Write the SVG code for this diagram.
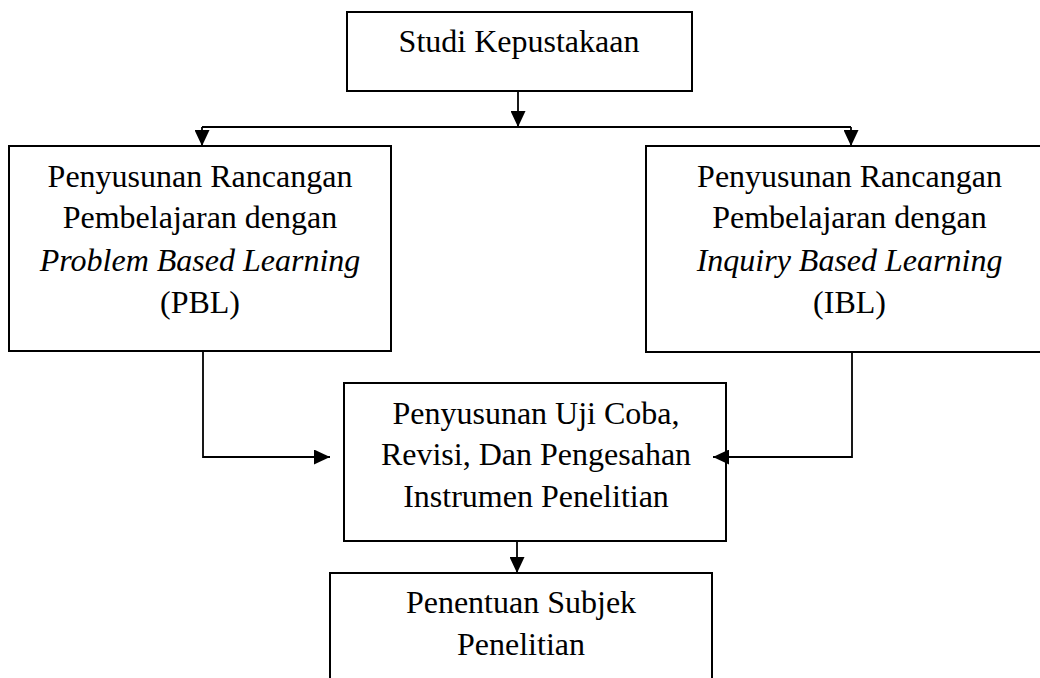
<svg xmlns="http://www.w3.org/2000/svg" width="1040" height="678" viewBox="0 0 1040 678">
<defs>
<style>
.box{fill:#fff;stroke:#000;stroke-width:2}
.t{font-family:"Liberation Serif","Times New Roman",serif;font-size:32px;fill:#000;text-anchor:middle}
.i{font-style:italic}
.c{fill:none;stroke:#000;stroke-width:1.8}
</style>
<marker id="ah" viewBox="0 0 16 15" refX="16" refY="7.5" markerWidth="16" markerHeight="15" markerUnits="userSpaceOnUse" orient="auto">
<path d="M0,0 L16,7.5 L0,15 Z" fill="#000"/>
</marker>
</defs>
<rect width="1040" height="678" fill="#fff"/>
<g id="node-studi">
<rect class="box" x="347" y="12" width="345" height="79"/>
<text class="t" x="519" y="52">Studi Kepustakaan</text>
</g>
<g id="node-pbl">
<rect class="box" x="9" y="146" width="382" height="205"/>
<text class="t" x="200" y="187">Penyusunan Rancangan</text>
<text class="t" x="200" y="228">Pembelajaran dengan</text>
<text class="t i" x="200" y="271">Problem Based Learning</text>
<text class="t" x="200" y="313">(PBL)</text>
</g>
<g id="node-ibl">
<rect class="box" x="646" y="146" width="407" height="206"/>
<text class="t" x="849.5" y="187">Penyusunan Rancangan</text>
<text class="t" x="849.5" y="228">Pembelajaran dengan</text>
<text class="t i" x="849.5" y="271">Inquiry Based Learning</text>
<text class="t" x="849.5" y="313">(IBL)</text>
</g>
<g id="node-instrumen">
<rect class="box" x="344" y="383" width="382" height="158"/>
<text class="t" x="536" y="424">Penyusunan Uji Coba,</text>
<text class="t" x="536" y="465">Revisi, Dan Pengesahan</text>
<text class="t" x="536" y="507">Instrumen Penelitian</text>
</g>
<g id="node-subjek">
<rect class="box" x="330" y="573" width="382" height="130"/>
<text class="t" x="521" y="613">Penentuan Subjek</text>
<text class="t" x="521" y="655">Penelitian</text>
</g>
<g id="connectors">
<path class="c" d="M518,92 V127" marker-end="url(#ah)"/>
<path class="c" d="M202,127 H851"/>
<path class="c" d="M202,127 V146" marker-end="url(#ah)"/>
<path class="c" d="M851,127 V146" marker-end="url(#ah)"/>
<path class="c" d="M203,352 V457 H330" marker-end="url(#ah)"/>
<path class="c" d="M852,353 V457 H713" marker-end="url(#ah)"/>
<path class="c" d="M517,542 V573" marker-end="url(#ah)"/>
</g>
</svg>
